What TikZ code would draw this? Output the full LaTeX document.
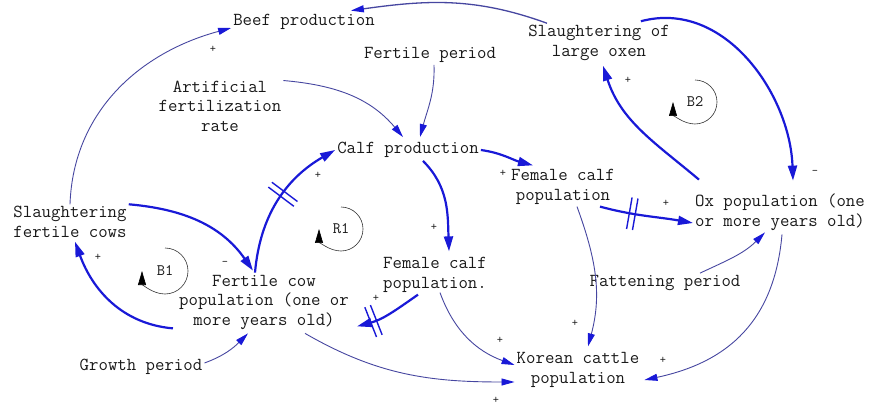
\documentclass[tikz,border=0pt]{standalone}
\usepackage{fontspec}
\usetikzlibrary{arrows.meta, decorations.markings}
\definecolor{flowblue}{RGB}{25,25,215}
\definecolor{linkblue}{RGB}{70,70,160}

\begin{document}
\begin{tikzpicture}[x=1pt, y=1pt,
  lbl/.style={font=\ttfamily\fontsize{18.3}{19.5}\selectfont, align=center, inner sep=2pt, text=black!90},
  sgn/.style={font=\ttfamily\fontsize{12}{12}\selectfont, inner sep=0pt, text=black!90},
  loopsym/.style={font=\ttfamily\fontsize{16}{16}\selectfont, inner sep=1pt, text=black!90},
  looparc/.style={black!80, line width=0.6pt, -{Triangle[length=14pt,width=8pt,color=black]}},
  flow/.style={draw=flowblue, line width=2.2pt, -{Triangle[length=15pt,width=9pt]}},
  link/.style={draw=linkblue, line width=0.9pt, -{Triangle[length=13pt,width=7pt,color=flowblue]}},
  delaymark/.style={postaction={decorate}, decoration={markings, mark=at position #1 with {\draw[-, flowblue, line width=1.4pt] (-3pt,-16pt) -- (-3pt,16pt) (3pt,-16pt) -- (3pt,16pt);}}}]
  \useasboundingbox (0,0) rectangle (869,407);

  \node[lbl] (beef)    at (304,385) {Beef production};
  \node[lbl] (fertper) at (430,352) {Fertile period};
  \node[lbl] (slox)    at (599,364) {Slaughtering of\\large oxen};
  \node[lbl] (afr)     at (220,301) {Artificial\\fertilization\\rate};
  \node[lbl] (calf)    at (408,257) {Calf production};
  \node[lbl] (fcalfR)  at (563,220) {Female calf\\population};
  \node[lbl] (oxpop)   at (780,195) {Ox population (one\\or more years old)};
  \node[lbl] (slcow)   at (70,185)  {Slaughtering\\fertile cows};
  \node[lbl] (cowpop)  at (264,105) {Fertile cow\\population (one or\\more years old)};
  \node[lbl] (fcalfC)  at (435,132) {Female calf\\population.};
  \node[lbl] (fatten)  at (665,124) {Fattening period};
  \node[lbl] (korean)  at (578,37)  {Korean cattle\\population};
  \node[lbl] (growth)  at (141,40)  {Growth period};

  \draw[link] (slcow.north) to[out=88,in=195] ([yshift=-6pt]beef.west);
  \draw[link, line width=1.3pt] ([xshift=-52pt]slox.north) to[out=160,in=8] ([xshift=-26pt,yshift=1.5pt]beef.north east);
  \draw[flow] ([xshift=6pt,yshift=12pt]oxpop.north west) to[out=140,in=-72] ([xshift=4pt,yshift=-3pt]slox.south);
  \draw[flow] ([xshift=-31pt,yshift=2pt]slox.north east) to[out=15,in=92] ([xshift=13pt,yshift=11pt]oxpop.north);
  \draw[link] ([yshift=-2pt]afr.north east) to[out=-5,in=130] ([xshift=-5pt,yshift=3pt]calf.north);
  \draw[link] ([xshift=4pt]fertper.south) to[out=-88,in=75] ([xshift=12pt,yshift=3pt]calf.north);
  \draw[flow] (calf.east) to[out=-8,in=165] ([xshift=-30pt,yshift=2pt]fcalfR.north);
  \draw[flow] ([xshift=15pt,yshift=-1pt]calf.south) to[out=-45,in=92] ([xshift=14pt,yshift=4pt]fcalfC.north);
  \draw[flow, delaymark=0.55] ([xshift=-9pt]cowpop.north) to[out=85,in=210] (calf.west);
  \draw[flow] (slcow.north east) to[out=-5,in=125] ([xshift=-11pt,yshift=2pt]cowpop.north);
  \draw[flow] ([xshift=-4pt,yshift=3pt]cowpop.south west) to[out=175,in=-70] ([xshift=5pt,yshift=-2pt]slcow.south);
  \draw[link] ([yshift=4pt]growth.east) to[out=20,in=-135] ([xshift=-16pt,yshift=-2pt]cowpop.south);
  \draw[flow, delaymark=0.75] ([xshift=-17pt]fcalfC.south) to[out=215,in=15] ([xshift=6pt,yshift=5pt]cowpop.south east);
  \draw[link] ([xshift=5pt,yshift=2pt]fcalfC.south) to[out=-70,in=160] ([yshift=5pt]korean.west);
  \draw[link] ([xshift=41pt,yshift=-2pt]cowpop.south) to[out=-30,in=180] ([yshift=-12pt]korean.west);
  \draw[flow, delaymark=0.35] ([xshift=37pt]fcalfR.south) to[out=-15,in=170] ([yshift=-11pt]oxpop.west);
  \draw[link] ([xshift=14pt]fcalfR.south) to[out=-70,in=75] ([xshift=10pt,yshift=4pt]korean.north);
  \draw[link] ([xshift=35pt]fatten.north) to[out=25,in=-135] ([xshift=-15pt]oxpop.south);
  \draw[link] ([xshift=2pt,yshift=-2pt]oxpop.south) to[out=-95,in=12,looseness=1.1] ([xshift=3pt,yshift=-10pt]korean.east);

  \node[sgn] (p1)  at (213,358) {+};
  \node[sgn] (p2)  at (318,232) {+};
  \node[sgn] (p3)  at (503,234) {+};
  \node[sgn] (p4)  at (628,327) {+};
  \node[sgn] (m1)  at (815,235) {-};
  \node[sgn] (p5)  at (666,204) {+};
  \node[sgn] (p6)  at (98,150)  {+};
  \node[sgn] (m2)  at (225,144) {-};
  \node[sgn] (p7)  at (434,180) {+};
  \node[sgn] (p8)  at (376,109) {+};
  \node[sgn] (p9)  at (500,67)  {+};
  \node[sgn] (p10) at (496,7)   {+};
  \node[sgn] (p11) at (575,84)  {+};
  \node[sgn] (p12) at (663,47)  {+};

  \node[loopsym] (b1) at (165,136) {B1};
  \draw[looparc] (b1.center) ++(90:23) arc[start angle=90, end angle=-180, radius=23];
  \node[loopsym] (r1) at (341,178) {R1};
  \draw[looparc] (r1.center) ++(90:22) arc[start angle=90, end angle=-180, radius=22];
  \node[loopsym] (b2) at (695,305) {B2};
  \draw[looparc] (b2.center) ++(90:22) arc[start angle=90, end angle=-180, radius=22];
\end{tikzpicture}
\end{document}
